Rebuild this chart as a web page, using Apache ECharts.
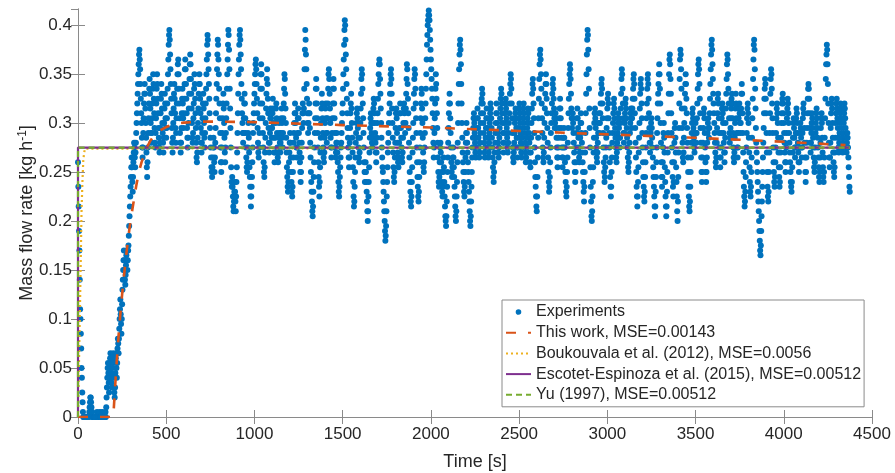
<!DOCTYPE html>
<html>
<head>
<meta charset="utf-8">
<script src="https://cdn.jsdelivr.net/npm/echarts@6/dist/echarts.min.js"></script>
<style>html,body{margin:0;padding:0;background:#fff}#c{width:895px;height:473px}</style>
</head>
<body>
<div id="c"></div>
<script>
const expDt = 2;
const expUnit = 0.005;
const expVals = [
52,47,43,38,34,28,22,20,17,14,10,8,5,3,1,0,0,0,0,0,0,0,0,0,0,0,0,0,0,0,0,0,1,2,3,4,4,3,2,1,1,0,0,0,0,0,0,0,0,0,
0,0,0,0,1,0,0,0,0,0,0,0,1,0,0,0,0,0,0,1,0,0,0,0,0,0,0,0,1,0,2,4,6,8,10,11,9,7,5,8,10,12,13,11,9,7,6,8,10,12,
13,11,8,5,4,6,9,12,13,10,8,11,14,16,15,13,16,18,20,22,24,21,19,17,20,23,26,28,30,32,34,32,30,28,27,29,31,33,34,32,30,32,34,35,37,39,41,43,45,47,
49,51,53,51,48,46,49,52,54,56,55,53,51,54,56,58,60,62,64,66,68,70,72,74,75,73,71,68,65,62,60,57,55,53,55,58,61,64,66,68,66,63,60,57,54,51,49,52,55,58,
61,64,67,69,66,63,60,58,56,58,61,64,67,70,68,65,62,59,56,55,58,61,64,67,70,68,65,62,59,57,55,54,56,59,62,65,68,66,63,60,58,56,54,57,60,63,66,64,61,59,
57,59,61,64,67,70,73,76,78,79,77,74,71,68,65,62,59,56,54,57,60,63,66,68,65,62,59,56,58,61,64,67,70,72,73,70,67,64,61,58,56,54,56,59,62,65,67,64,61,59,
62,65,68,71,73,71,68,65,62,59,57,55,57,60,63,66,69,72,74,72,69,66,63,60,57,56,58,61,64,67,70,68,65,62,59,56,53,52,54,57,60,63,66,68,70,68,65,62,59,56,
54,56,58,61,64,66,63,60,57,55,58,61,64,67,70,73,76,78,77,74,71,68,65,62,59,57,55,53,51,50,49,51,53,55,57,55,52,50,53,56,59,62,65,68,71,74,77,76,73,70,
67,64,61,58,55,52,50,52,55,58,61,64,66,63,60,57,54,52,55,58,61,64,67,70,73,76,79,78,75,71,67,63,59,55,51,48,47,49,47,45,43,42,44,46,48,46,44,42,45,48,
51,54,58,62,66,70,73,76,78,79,77,74,71,68,65,62,60,58,56,58,61,64,66,64,61,58,55,53,51,50,52,55,58,60,57,54,51,49,47,45,43,45,47,49,52,55,58,60,62,64,
66,68,70,72,73,71,68,65,62,59,56,54,53,55,58,61,64,67,70,72,70,67,64,61,58,55,52,50,49,51,54,57,60,63,66,69,71,68,65,62,59,56,54,56,58,61,63,61,59,57,
59,62,65,63,60,57,54,52,54,57,60,63,64,61,58,55,53,52,54,57,60,58,56,54,56,58,61,63,60,57,55,58,61,64,67,70,69,66,63,60,57,54,51,49,47,46,48,50,52,54,
56,58,56,53,50,48,46,45,47,50,53,56,58,60,62,64,62,60,57,55,53,55,58,61,63,61,58,56,54,52,50,48,50,53,56,59,62,64,62,60,63,67,71,75,79,77,74,71,68,65,
62,60,58,60,62,64,62,59,56,53,50,48,46,44,42,41,43,46,49,52,55,58,61,64,67,69,67,64,61,58,55,52,49,47,45,48,51,54,57,60,63,66,64,61,58,55,53,52,54,57,
60,63,64,61,58,56,58,61,64,67,70,71,69,66,63,60,57,55,53,55,58,61,64,67,69,67,64,61,58,55,53,54,56,58,56,54,52,50,48,46,45,47,49,51,53,55,56,58,60,62,
64,67,70,73,76,79,81,80,77,74,71,68,65,62,59,57,55,53,51,53,56,59,62,64,66,63,60,57,54,51,48,45,43,44,47,50,53,56,58,60,62,63,61,59,57,55,53,52,54,57,
60,63,66,69,71,70,67,64,61,58,55,52,50,48,50,52,50,48,46,44,42,40,42,45,48,51,54,57,59,61,62,60,58,56,55,57,60,63,65,64,62,60,58,56,54,52,54,57,60,62,
65,68,70,72,73,72,69,66,63,60,57,55,53,51,50,48,46,44,42,40,38,36,37,39,42,45,48,51,54,56,58,60,62,64,66,68,70,71,69,66,63,60,57,54,51,49,48,50,53,56,
59,62,63,61,58,56,54,52,51,53,56,59,62,64,62,59,57,55,53,52,54,57,60,63,64,62,60,58,60,63,66,69,72,71,68,65,62,59,56,53,50,48,46,44,43,45,48,51,54,57,
60,63,66,69,71,70,67,64,61,58,55,52,49,47,45,44,46,49,52,55,58,61,64,67,66,63,60,57,54,51,50,52,55,58,61,64,67,70,73,76,78,80,81,82,83,82,81,79,77,75,
73,71,69,67,65,62,59,56,53,55,58,61,64,67,70,68,65,62,59,56,53,50,48,47,49,52,55,56,54,52,50,48,46,45,47,50,53,51,48,45,43,41,40,39,41,44,47,50,53,56,
59,62,64,66,64,61,58,55,52,50,49,51,53,55,53,51,49,47,45,43,41,40,42,45,48,52,56,60,64,68,71,74,76,77,75,72,68,64,60,57,54,52,50,48,46,45,47,50,53,56,
58,60,58,56,54,52,50,48,46,44,42,40,39,41,44,47,50,53,55,57,59,61,62,60,58,56,54,53,55,57,59,61,63,61,59,57,55,53,54,56,58,60,62,64,65,67,66,64,62,60,
58,56,54,53,55,57,59,61,63,61,59,57,55,53,54,56,58,60,62,64,63,61,59,57,55,53,51,49,48,50,52,54,56,58,60,62,64,62,60,58,56,54,53,55,57,59,61,63,65,67,
66,64,62,60,58,56,54,56,58,60,62,64,65,63,61,59,57,55,54,56,58,60,62,64,66,68,70,69,67,64,61,58,55,53,52,54,56,58,60,62,63,61,59,57,55,53,55,57,59,61,
63,64,62,60,58,56,54,53,55,57,59,61,63,64,62,60,58,56,54,52,53,55,57,59,61,63,62,60,58,56,54,52,51,54,57,60,63,66,68,69,67,64,61,58,55,52,49,47,45,43,
42,45,49,53,57,61,65,69,72,74,75,73,70,67,64,61,58,55,53,52,54,57,60,63,66,68,70,68,65,62,59,56,53,50,48,46,47,49,52,55,58,60,62,64,66,68,69,67,65,63,
61,59,60,62,61,59,57,55,53,51,53,55,57,59,61,63,65,63,61,59,57,55,53,51,53,55,57,59,57,55,52,50,48,46,45,47,50,53,56,59,62,65,68,70,72,71,69,66,63,61,
59,61,62,60,58,56,54,52,50,48,50,52,55,58,61,63,61,59,57,55,53,52,54,57,60,62,60,58,56,54,52,50,48,46,44,47,50,54,58,62,66,70,74,77,79,78,75,71,67,63,
59,55,51,47,44,41,40,42,45,48,51,54,57,60,62,63,61,59,57,55,53,52,54,56,58,60,62,60,58,60,62,64,66,68,69,67,64,61,58,55,52,50,48,49,51,53,55,57,59,61,
63,65,66,64,61,58,55,52,49,47,45,47,50,53,56,58,60,62,64,65,63,61,59,57,55,53,52,54,56,58,60,62,61,59,57,55,57,60,63,66,69,71,70,67,64,61,58,56,58,60,
62,64,65,63,61,59,57,55,53,51,50,52,54,56,58,60,62,63,61,59,61,63,65,67,69,70,68,65,62,59,56,53,50,47,45,43,45,48,51,54,57,60,63,66,68,69,67,64,61,58,
55,52,49,47,45,44,46,49,52,55,58,61,64,67,69,70,68,65,62,59,56,54,56,58,60,61,59,57,55,53,51,49,47,45,43,41,43,46,49,52,55,58,61,64,66,68,70,72,70,67,
64,60,56,52,49,47,49,52,55,58,60,57,54,51,48,45,43,41,43,46,50,54,58,62,66,70,73,74,72,69,66,62,58,55,52,49,47,45,48,52,56,59,60,57,54,51,48,45,42,40,
44,49,54,59,64,69,73,75,74,71,67,63,59,56,53,52,54,57,60,63,66,68,70,68,65,62,59,56,53,50,47,45,43,42,44,47,50,53,56,58,60,62,63,61,59,57,55,54,56,58,
60,58,56,58,61,64,67,70,72,73,71,68,65,62,59,56,53,50,48,50,53,56,59,62,63,61,58,55,52,50,48,50,53,56,58,60,61,59,57,59,62,65,68,71,74,76,77,75,72,69,
66,64,62,60,58,56,54,52,51,53,56,59,62,65,66,64,61,58,55,53,51,53,55,58,61,63,64,62,60,58,56,54,52,54,57,60,63,66,69,72,74,73,70,67,64,61,58,56,57,59,
61,63,65,66,64,61,58,55,53,52,54,57,60,63,66,64,61,58,55,53,55,58,61,63,64,62,60,58,60,63,66,68,66,62,58,54,50,47,45,43,44,46,49,52,55,58,61,63,64,62,
60,57,54,51,48,46,45,47,50,53,57,61,65,69,73,76,77,75,71,67,63,59,56,54,52,50,48,46,44,42,40,38,36,34,33,35,38,41,44,47,50,53,56,59,62,65,67,69,68,65,
62,58,54,50,47,45,44,46,50,54,58,62,66,69,71,70,67,64,61,58,55,52,50,48,47,49,52,55,58,61,63,64,62,60,57,54,51,49,47,48,51,54,57,60,62,64,65,66,64,62,
60,58,56,54,52,50,52,55,58,61,63,65,64,62,60,58,56,54,52,50,48,47,46,48,51,54,57,60,61,59,57,55,53,55,58,61,63,62,60,58,56,54,52,50,52,55,58,60,59,57,
55,53,55,58,61,63,64,62,59,56,53,50,48,50,53,56,59,62,65,67,68,67,65,62,59,56,54,56,58,60,62,61,59,57,55,53,51,50,52,55,58,60,62,63,61,59,57,55,53,51,
49,48,50,53,56,59,61,62,60,57,54,51,49,48,50,53,57,61,65,69,72,74,76,75,72,68,64,60,56,53,51,53,56,59,62,64,65,63,60,57,54,52,50,49,51,54,57,60,62,64,
65,63,61,59,57,55,54,56,58,60,62,64,63,61,59,57,55,54,56,58,60,62,64,63,61,59,57,55,54,56,58,57,55,53,51,49,47,46
];
// Model curves: [time s, kg/h]
const thisWorkT = [0,200,210,220,230,240,250,260,270,280,290,300,310,320,330,345,360,375,390,410,430,460,500,540,600,700,800,1000,1200,1500,2000,2500,3000,3500,4000,4350];
const thisWorkV = [0,0,0.03,0.058,0.083,0.105,0.125,0.143,0.16,0.176,0.19,0.203,0.214,0.225,0.236,0.25,0.26,0.268,0.275,0.282,0.287,0.292,0.296,0.299,0.3005,0.3015,0.3015,0.301,0.2998,0.298,0.2955,0.292,0.2885,0.285,0.281,0.2775];
const boukT = [0,5,10,15,20,25,30,35,40,50,4375];
const boukV = [0,0.05,0.1,0.153,0.21,0.24,0.262,0.27,0.274,0.275,0.275];
const escT = [0,0,4375];
const escV = [0,0.275,0.275];
const yuT = [0,0,4375];
const yuV = [0,0.275,0.275];
const xTicks = [0,500,1000,1500,2000,2500,3000,3500,4000,4500];
const yTicks = [0,0.05,0.1,0.15,0.2,0.25,0.3,0.35,0.4];

const zip = (t, v) => t.map((x, i) => [x, v[i]]);
const expData = expVals.map((v, i) => [i * expDt, v * expUnit]);

const axisCol = '#8a8a8a';
const txtCol = '#262626';
const FONT = '"Liberation Sans", Arial, Helvetica, sans-serif';
const hideSym = {opacity: 0};

const chart = echarts.init(document.getElementById('c'), null, {renderer: 'canvas'});
chart.setOption({
  animation: false,
  backgroundColor: '#fff',
  textStyle: {fontFamily: FONT},
  grid: {left: 78, right: 23, top: 9, bottom: 56, containLabel: false, outerBoundsMode: 'none'},
  legend: {
    orient: 'vertical', left: 502, top: 300, align: 'left',
    backgroundColor: '#fff', borderColor: '#8a8a8a', borderWidth: 1,
    padding: [4, 3, 4, 3], itemGap: 4.7, itemWidth: 25, itemHeight: 14,
    textStyle: {fontSize: 16, color: txtCol, fontFamily: FONT, lineHeight: 16},
    data: [
      {name: 'Experiments', icon: 'path://M0,0L0.01,0M25,14L24.99,14M12.5,4.2A2.8,2.8,0,1,1,12.49,4.2Z', itemStyle: {opacity: 1}},
      {name: 'This work, MSE=0.00143', itemStyle: hideSym},
      {name: 'Boukouvala et al. (2012), MSE=0.0056', itemStyle: hideSym},
      {name: 'Escotet-Espinoza et al. (2015), MSE=0.00512', itemStyle: hideSym},
      {name: 'Yu (1997), MSE=0.00512', itemStyle: hideSym}
    ]
  },
  xAxis: [{
    type: 'value', min: 0, max: 4500, interval: 500,
    name: 'Time [s]', nameLocation: 'middle', nameGap: 36, nameMoveOverlap: false,
    nameTextStyle: {fontSize: 18, color: txtCol, fontFamily: FONT},
    axisLine: {show: true, lineStyle: {color: axisCol, width: 1}},
    axisTick: {show: true, inside: true, length: 7, lineStyle: {color: axisCol}},
    axisLabel: {fontSize: 17, color: txtCol, margin: 9, fontFamily: FONT,
      formatter: v => xTicks.includes(v) ? String(v) : ''},
    splitLine: {show: false}
  }, {
    type: 'value', min: 0, max: 4500, interval: 500, position: 'top',
    axisLine: {show: true, lineStyle: {color: axisCol, width: 1}},
    axisTick: {show: true, inside: true, length: 7, lineStyle: {color: axisCol}},
    axisLabel: {show: false}, splitLine: {show: false}
  }],
  yAxis: [{
    type: 'value', min: 0, max: 0.4165, interval: 0.05,
    name: 'Mass flow rate [kg h{sup|-1}]', nameLocation: 'middle', nameGap: 41, nameMoveOverlap: false,
    nameTextStyle: {fontSize: 18, color: txtCol, fontFamily: FONT,
      rich: {sup: {fontSize: 12, verticalAlign: 'top', padding: [0, 0, 8, 0], color: txtCol, fontFamily: FONT}}},
    axisLine: {show: true, lineStyle: {color: axisCol, width: 1}},
    axisTick: {show: true, inside: true, length: 7, lineStyle: {color: axisCol}},
    axisLabel: {fontSize: 17, color: txtCol, margin: 6, showMaxLabel: false, fontFamily: FONT,
      formatter: v => { const k = yTicks.find(y => Math.abs(y - v) < 1e-9); return k === undefined ? '' : String(k); }},
    splitLine: {show: false}
  }, {
    type: 'value', min: 0, max: 0.4165, interval: 0.05, position: 'right',
    axisLine: {show: true, lineStyle: {color: axisCol, width: 1}},
    axisTick: {show: true, inside: true, length: 7, lineStyle: {color: axisCol}},
    axisLabel: {show: false}, splitLine: {show: false}
  }],
  series: [
    {name: 'Experiments', type: 'scatter', data: expData, symbol: 'circle', symbolSize: 6,
     large: false, itemStyle: {color: '#0072BD', opacity: 1}, z: 2},
    {name: 'This work, MSE=0.00143', type: 'line', data: zip(thisWorkT, thisWorkV), symbol: 'none',
     lineStyle: {color: '#D95319', width: 2.6, type: [10, 12]}, itemStyle: {color: '#D95319'}, z: 3},
    {name: 'Boukouvala et al. (2012), MSE=0.0056', type: 'line', data: zip(boukT, boukV), symbol: 'none',
     lineStyle: {color: '#EDB120', width: 2.2, type: [2, 3]}, itemStyle: {color: '#EDB120'}, z: 3},
    {name: 'Escotet-Espinoza et al. (2015), MSE=0.00512', type: 'line', data: zip(escT, escV), symbol: 'none',
     lineStyle: {color: '#7E2F8E', width: 2.2}, itemStyle: {color: '#7E2F8E'}, z: 3},
    {name: 'Yu (1997), MSE=0.00512', type: 'line', data: zip(yuT, yuV), symbol: 'none',
     lineStyle: {color: '#77AC30', width: 2.2, type: [6, 4]}, itemStyle: {color: '#77AC30'}, z: 3}
  ]
});
</script>
</body>
</html>
